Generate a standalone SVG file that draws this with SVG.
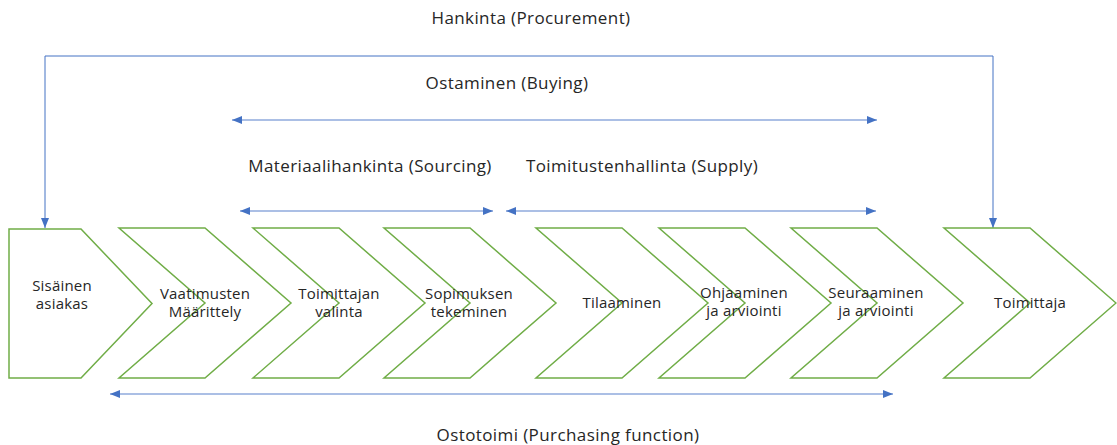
<svg xmlns="http://www.w3.org/2000/svg" width="1117" height="445" viewBox="0 0 1117 445">
<defs>
<style>
.shape{fill:#ffffff;stroke:#70AD47;stroke-width:1.5;stroke-linejoin:miter}
.conn{fill:none;stroke:#4472C4;stroke-width:1}
.hconn{fill:none;stroke:#8FAADC;stroke-width:1.5}
.lbl{font-family:"Open Sans","Noto Sans","Liberation Sans",sans-serif;font-size:15px;letter-spacing:0.2px;fill:#262626;text-anchor:middle}
.head{font-family:"Open Sans","Noto Sans","Liberation Sans",sans-serif;font-size:17px;letter-spacing:0.4px;fill:#262626;text-anchor:middle}
</style>
<marker id="arr" viewBox="0 0 10 8" refX="10" refY="4" markerWidth="10" markerHeight="8" markerUnits="userSpaceOnUse" orient="auto-start-reverse">
<path d="M0,0 L10,4 L0,8 Z" fill="#4472C4"/>
</marker>
</defs>
<rect width="1117" height="445" fill="#ffffff"/>

<g id="connectors">
<path class="conn" d="M45,228 V56 H993 V228" marker-start="url(#arr)" marker-end="url(#arr)"/>
<path class="hconn" d="M232,120 H877" marker-start="url(#arr)" marker-end="url(#arr)"/>
<path class="hconn" d="M240,211 H493" marker-start="url(#arr)" marker-end="url(#arr)"/>
<path class="hconn" d="M506,211 H876" marker-start="url(#arr)" marker-end="url(#arr)"/>
<path class="hconn" d="M110,394 H893" marker-start="url(#arr)" marker-end="url(#arr)"/>
</g>

<g id="labels">
<text class="head" x="531" y="24">Hankinta (Procurement)</text>
<text class="head" x="507" y="89">Ostaminen (Buying)</text>
<text class="head" x="370" y="172">Materiaalihankinta (Sourcing)</text>
<text class="head" x="642" y="172">Toimitustenhallinta (Supply)</text>
<text class="head" x="568" y="441">Ostotoimi (Purchasing function)</text>
</g>

<g id="n1">
<path class="shape" d="M9,229 H81 L152,303.5 L81,378 H9 Z"/>
<text class="lbl" x="62" y="291">Sisäinen</text>
<text class="lbl" x="62" y="309">asiakas</text>
</g>
<g id="n2">
<path class="shape" d="M119,228 H205 L291,303 L205,378 H119 L205,303 Z"/>
<text class="lbl" x="205" y="299">Vaatimusten</text>
<text class="lbl" x="205" y="317">Määrittely</text>
</g>
<g id="n3">
<path class="shape" d="M253,228 H339 L425,303 L339,378 H253 L339,303 Z"/>
<text class="lbl" x="339" y="299">Toimittajan</text>
<text class="lbl" x="339" y="317">valinta</text>
</g>
<g id="n4">
<path class="shape" d="M384,228 H470 L556,303 L470,378 H384 L470,303 Z"/>
<text class="lbl" x="469" y="299">Sopimuksen</text>
<text class="lbl" x="469" y="317">tekeminen</text>
</g>
<g id="n5">
<path class="shape" d="M536,228 H622 L708,303 L622,378 H536 L622,303 Z"/>
<text class="lbl" x="622" y="308">Tilaaminen</text>
</g>
<g id="n6">
<path class="shape" d="M659,228 H745 L831,303 L745,378 H659 L745,303 Z"/>
<text class="lbl" x="744" y="298">Ohjaaminen</text>
<text class="lbl" x="744" y="316">ja arviointi</text>
</g>
<g id="n7">
<path class="shape" d="M791,228 H877 L963,303 L877,378 H791 L877,303 Z"/>
<text class="lbl" x="876" y="298">Seuraaminen</text>
<text class="lbl" x="876" y="316">ja arviointi</text>
</g>
<g id="n8">
<path class="shape" d="M944,228 H1030 L1116,303 L1030,378 H944 L1030,303 Z"/>
<text class="lbl" x="1030" y="308">Toimittaja</text>
</g>
</svg>
